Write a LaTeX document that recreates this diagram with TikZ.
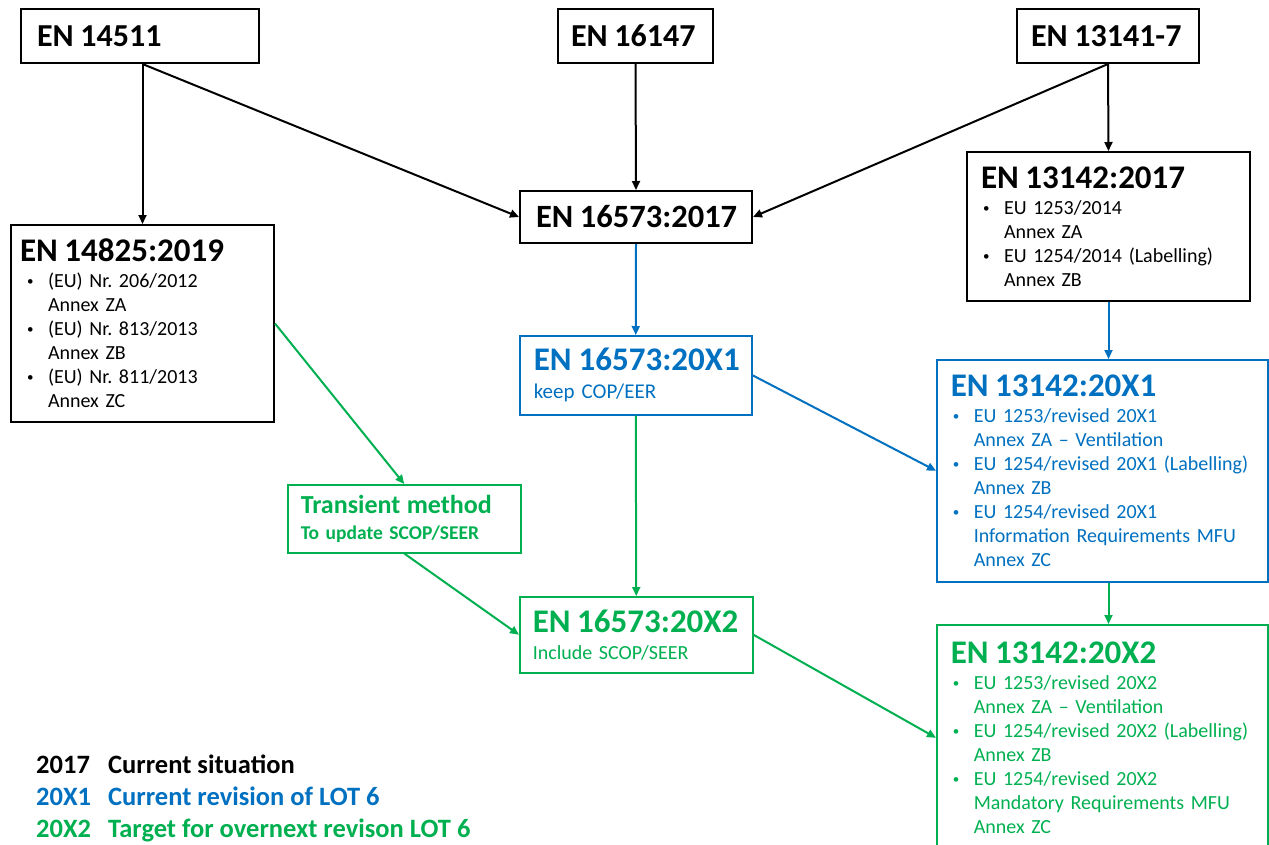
\documentclass[tikz,border=0pt]{standalone}
\usepackage{fontspec}
\setmainfont{Carlito}
\usetikzlibrary{arrows.meta}
\frenchspacing

\definecolor{revblue}{RGB}{0,112,192}
\definecolor{tgtgreen}{RGB}{0,176,80}

\newcommand{\ttl}[2][33]{{\fontsize{#1}{#1}\selectfont\bfseries\mbox{#2}}}
\newcommand{\bul}[1][23pt]{\makebox[#1][l]{\hspace{\dimexpr#1-21pt\relax}\raisebox{2pt}{\fontsize{13}{13}\selectfont\textbullet}}}
\newcommand{\cnt}[1][23pt]{\hspace*{#1}}

\tikzset{
	stdbox/.style={draw, line width=2pt, anchor=north west, align=left, inner ysep=0pt, font=\fontsize{20}{24}\selectfont},
	revbox/.style={stdbox, draw=revblue, text=revblue, line width=1.5pt},
	tgtbox/.style={stdbox, draw=tgtgreen, text=tgtgreen, line width=1.5pt},
	arr/.style={line width=2pt, -{Triangle[length=9pt,width=8pt]}},
	legtxt/.style={anchor=base west, inner sep=0pt, font=\fontsize{26.5}{30}\selectfont\bfseries}
}

\begin{document}
\begin{tikzpicture}[x=1pt, y=-1pt]
	\useasboundingbox (0,0) rectangle (1269,844);
	\clip (0,0) rectangle (1269,844);
	
	% current situation
	\node[stdbox, minimum width=238pt, minimum height=54pt, inner xsep=16pt, text width=206pt] (en14511) at (20,8) {\ttl[32]{EN 14511}};
	\node[stdbox, minimum width=155pt, minimum height=54pt, inner xsep=13pt, text width=129pt] (en16147) at (557,8) {\ttl[32]{EN 16147}};
	\node[stdbox, minimum width=182pt, minimum height=54pt, inner xsep=14pt, text width=154pt] (en13141) at (1016,8) {\ttl[32]{EN 13141-7}};
	\node[stdbox, minimum width=232pt, minimum height=52pt, inner xsep=16pt, text width=200pt] (en16573a) at (519,190) {\ttl[32.5]{EN 16573:2017}};
	\node[stdbox, minimum width=263pt, minimum height=197pt, inner xsep=9pt, text width=245pt] (en14825) at (10,224) {\ttl{EN 14825:2019}\\[2pt]
		\bul[28pt](EU) Nr. 206/2012\\ \cnt[28pt]Annex ZA\\
		\bul[28pt](EU) Nr. 813/2013\\ \cnt[28pt]Annex ZB\\
		\bul[28pt](EU) Nr. 811/2013\\ \cnt[28pt]Annex ZC};
	\node[stdbox, minimum width=283pt, minimum height=149pt, inner xsep=14pt, text width=255pt] (en13142a) at (966,151) {\ttl{EN 13142:2017}\\[2pt]
		\bul EU 1253/2014\\ \cnt Annex ZA\\
		\bul EU 1254/2014 (Labelling)\\ \cnt Annex ZB};
	
	% revision 20X1
	\node[revbox, minimum width=232pt, minimum height=79pt, inner xsep=14pt, text width=204pt, font=\fontsize{21}{24}\selectfont] (en16573b) at (519,335) {\ttl{EN 16573:20X1}\\[4pt] keep COP/EER};
	\node[revbox, minimum width=331pt, minimum height=222pt, inner xsep=14pt, text width=303pt] (en13142b) at (936,359) {\ttl{EN 13142:20X1}\\[2pt]
		\bul EU 1253/revised 20X1\\ \cnt Annex ZA -- Ventilation\\
		\bul EU 1254/revised 20X1 (Labelling)\\ \cnt Annex ZB\\
		\bul EU 1254/revised 20X1\\ \cnt Information Requirements MFU\\ \cnt Annex ZC};
	
	% target 20X2
	\node[tgtbox, minimum width=233pt, minimum height=68pt, inner xsep=13pt, text width=207pt, font=\fontsize{19.5}{24}\selectfont\bfseries] (trans) at (287,484) {\ttl[26]{Transient method}\\[2pt] To update SCOP/SEER};
	\node[tgtbox, minimum width=233pt, minimum height=76pt, inner xsep=13pt, text width=207pt] (en16573c) at (519,596) {\ttl{EN 16573:20X2}\\[3pt] Include SCOP/SEER};
	\node[tgtbox, minimum width=331pt, minimum height=226pt, inner xsep=14pt, text width=303pt] (en13142c) at (936,624) {\ttl{EN 13142:20X2}\\[2pt]
		\bul EU 1253/revised 20X2\\ \cnt Annex ZA -- Ventilation\\
		\bul EU 1254/revised 20X2 (Labelling)\\ \cnt Annex ZB\\
		\bul EU 1254/revised 20X2\\ \cnt Mandatory Requirements MFU\\ \cnt Annex ZC};
	
	% connectors
	\draw[arr] (en14511.south -| en14825.north) -- (en14825.north);
	\draw[arr] (en14511.south -| en14825.north) -- (en16573a.west);
	\draw[arr] (en16147.south) -- (en16573a.north);
	\draw[arr] (en13141.south) -- (en16573a.east);
	\draw[arr] (en13141.south) -- (en13142a.north);
	\draw[arr, revblue] (en16573a.south) -- (en16573b.north);
	\draw[arr, revblue] (en13142a.south) -- (en13142a.south |- en13142b.north);
	\draw[arr, revblue] (en16573b.east) -- (en13142b.west);
	\draw[arr, tgtgreen] (en14825.east) -- (trans.north);
	\draw[arr, tgtgreen] (en16573b.south) -- (en16573c.north);
	\draw[arr, tgtgreen] (trans.south) -- (en16573c.west);
	\draw[arr, tgtgreen] (en13142a.south |- en13142b.south) -- (en13142a.south |- en13142c.north);
	\draw[arr, tgtgreen] (en16573c.east) -- (en13142c.west);
	
	% legend
	\node[legtxt] (yr17) at (36,773) {2017};
	\node[legtxt] (cur17) at (108,773) {Current situation};
	\node[legtxt, text=revblue] (yr21) at (36,805) {20X1};
	\node[legtxt, text=revblue] (cur21) at (108,805) {Current revision of LOT 6};
	\node[legtxt, text=tgtgreen] (yr22) at (36,837) {20X2};
	\node[legtxt, text=tgtgreen] (cur22) at (108,837) {Target for overnext revison LOT 6};
\end{tikzpicture}
\end{document}
